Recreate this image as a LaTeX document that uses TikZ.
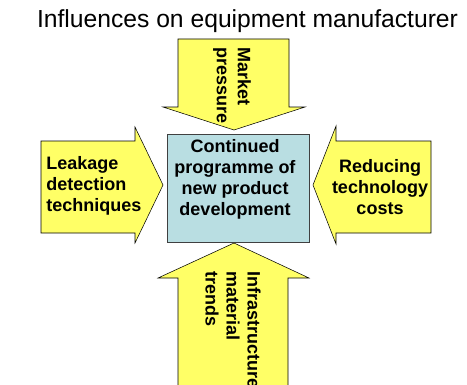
\documentclass[tikz,border=0pt]{standalone}
\usepackage{fontspec}
\setmainfont{Liberation Sans}
\definecolor{pushyellow}{RGB}{255,255,102}
\definecolor{coreblue}{RGB}{185,222,226}

\begin{document}
\begin{tikzpicture}[x=0.75pt,y=-0.75pt,
    push/.style={draw=black,fill=pushyellow,line join=miter},
    pushtext/.style={font=\fontsize{13.5}{15.75}\selectfont\bfseries,inner sep=0pt}]
  \useasboundingbox (0,0) rectangle (467,385);
  \clip (0,0) rectangle (467,385);

  \node [font=\fontsize{18.5}{22}\selectfont, anchor=base] (title) at (247.5,28)
    {Influences on equipment manufacturer};

  % four influences pushing on the box
  \draw [push] (178,39) -- (289,39) -- (289,107) -- (305,107) -- (234,130)
    -- (163,107) -- (178,107) -- cycle;
  \draw [push] (41,141) -- (135,141) -- (135,127) -- (163,185) -- (135,243)
    -- (135,233) -- (41,233) -- cycle;
  \draw [push] (431,141) -- (336,141) -- (336,126) -- (313,185) -- (336,244)
    -- (336,233) -- (431,233) -- cycle;
  \draw [push] (178,392) -- (178,278) -- (158,278) -- (234,243) -- (309,278)
    -- (288,278) -- (288,392);

  \node [draw=black!75, fill=coreblue, minimum width=106.5pt, minimum height=81pt]
    (core) at (238,188) {};
  \node [pushtext, align=center] (coretext) at (235,179)
    {Continued\\programme of\\new product\\development};

  \node [pushtext, align=left, rotate=-90, anchor=west] (market) at (232,47)
    {Market\\pressure};
  \node [pushtext, align=left, anchor=west] (leakage) at (46,186)
    {Leakage\\detection\\techniques};
  \node [pushtext, align=center] (costs) at (380,187)
    {Reducing\\technology\\costs};
  \node [pushtext, align=left, rotate=-90, anchor=west] (trends) at (233,271)
    {Infrastructure\\material\\trends};
\end{tikzpicture}
\end{document}
